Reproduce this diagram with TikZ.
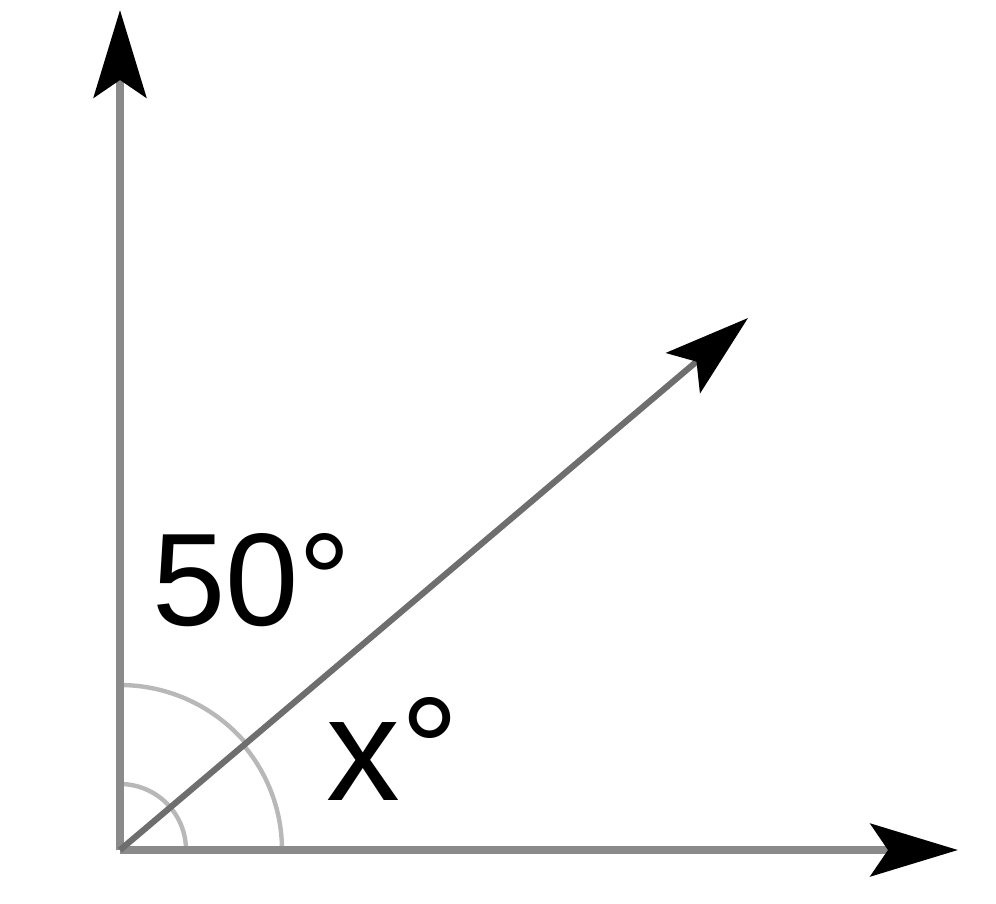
\documentclass[tikz,border=0pt]{standalone}
\usepackage{fontspec}
\setmainfont{Liberation Sans}
\usetikzlibrary{arrows.meta}
\definecolor{axisgray}{HTML}{8A8A8A}
\definecolor{raygray}{HTML}{6E6E6E}
\definecolor{arcgray}{HTML}{B8B8B8}
\begin{document}
\begin{tikzpicture}[x=0.02cm,y=-0.02cm,
  axis/.style={draw=axisgray,line width=5pt,-{Stealth[length=1.75cm,width=1.05cm,inset=0.35cm,black]}},
  ray/.style={draw=raygray,line width=3.5pt,-{Stealth[length=1.7cm,width=1.05cm,inset=0.35cm,black]}},
  anglearc/.style={draw=arcgray,line width=2.5pt},
  lbl/.style={inner sep=0pt,font=\fontsize{75}{80}\selectfont}]
\useasboundingbox (0,0) rectangle (996,903);
\coordinate (O) at (120,850);
\coordinate (Ytip) at (120,10);
\coordinate (Xtip) at (958,850);
\coordinate (Rtip) at (748,318);
\draw[anglearc] (120,685) arc[start angle=90,end angle=40,radius=3.3cm];
\draw[anglearc] (244.1,745.9) arc[start angle=40,end angle=0,radius=3.24cm];
\draw[anglearc] (120,784) arc[start angle=90,end angle=0,radius=1.32cm];
\draw[axis] (O) -- (Ytip);
\draw[axis] (O) -- (Xtip);
\draw[ray] (O) -- (Rtip);
\node[lbl,anchor=base west] (fifty) at (152,625) {50°};
\node[lbl,anchor=base west,font=\fontsize{84}{90}\selectfont] (xlab) at (326,800) {x°};
\end{tikzpicture}
\end{document}
